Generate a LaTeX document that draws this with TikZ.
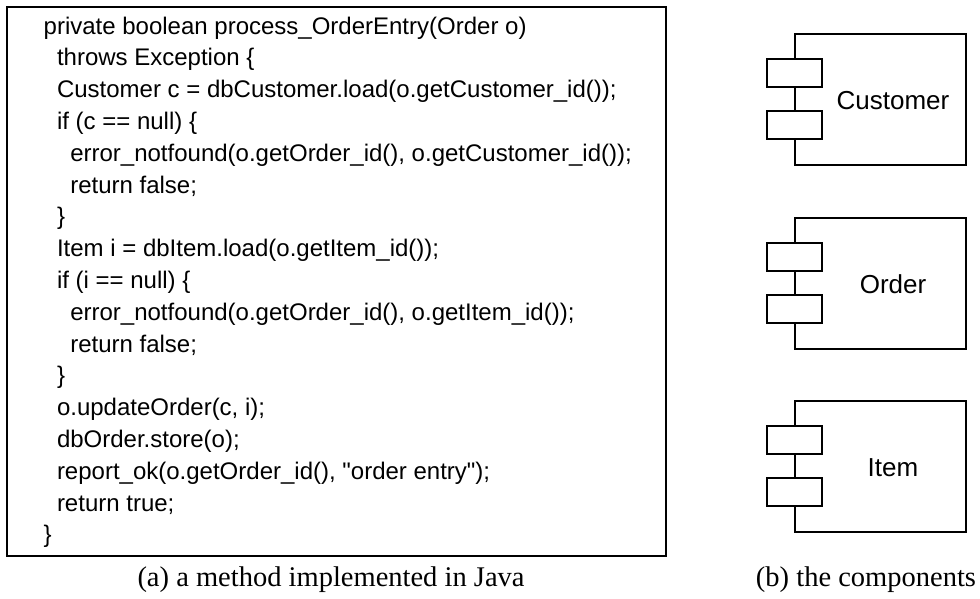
\documentclass[tikz,border=0pt]{standalone}
\usepackage{fontspec}
\setmainfont{Liberation Serif}
\newfontfamily\codefont{Liberation Sans}
\begin{document}
\begin{tikzpicture}[x=1pt,y=-1pt,
  codeline/.style={anchor=base west, inner sep=0pt,
    font=\codefont\fontsize{24}{31.8}\selectfont},
  codeframe/.style={draw, line width=2pt, anchor=north west,
    minimum width=659pt, minimum height=549pt, inner sep=0pt},
  compbox/.style={draw, line width=1.6pt, anchor=north west,
    minimum width=171pt, minimum height=131pt, inner sep=0pt},
  port/.style={draw, fill=white, line width=1.6pt,
    minimum width=55pt, minimum height=28pt, inner sep=0pt},
  complabel/.style={anchor=base, inner sep=0pt,
    font=\codefont\fontsize{26}{30}\selectfont},
  caption/.style={anchor=base, inner sep=0pt,
    font=\fontsize{28.5}{32}\selectfont}]
\useasboundingbox (0,0) rectangle (980,598);

% the method listing
\node[codeframe] (code) at (6,6) {};
\node[codeline] (l1)  at (43.5, 34.0) {private boolean process\_OrderEntry(Order o)};
\node[codeline] (l2)  at (56.8, 65.8) {throws Exception \{};
\node[codeline] (l3)  at (56.8, 97.6) {Customer c = dbCustomer.load(o.getCustomer\_id());};
\node[codeline] (l4)  at (56.8,129.4) {if (c == null) \{};
\node[codeline] (l5)  at (70.1,161.2) {error\_notfound(o.getOrder\_id(), o.getCustomer\_id());};
\node[codeline] (l6)  at (70.1,193.0) {return false;};
\node[codeline] (l7)  at (56.8,224.8) {\}};
\node[codeline] (l8)  at (56.8,256.6) {Item i = dbItem.load(o.getItem\_id());};
\node[codeline] (l9)  at (56.8,288.4) {if (i == null) \{};
\node[codeline] (l10) at (70.1,320.2) {error\_notfound(o.getOrder\_id(), o.getItem\_id());};
\node[codeline] (l11) at (70.1,352.0) {return false;};
\node[codeline] (l12) at (56.8,383.8) {\}};
\node[codeline] (l13) at (56.8,415.6) {o.updateOrder(c, i);};
\node[codeline] (l14) at (56.8,447.4) {dbOrder.store(o);};
\node[codeline] (l15) at (56.8,479.2) {report\_ok(o.getOrder\_id(), "order entry");};
\node[codeline] (l16) at (56.8,511.0) {return true;};
\node[codeline] (l17) at (43.5,542.8) {\}};

% the three components
\foreach \nm/\txt/\top in {cust/Customer/33, ord/Order/217, itm/Item/400} {
  \node[compbox] (\nm) at (794,\top) {};
  \node[port] (\nm-p1) at ([xshift=0.5pt,yshift=-40pt]\nm.north west) {};
  \node[port] (\nm-p2) at ([xshift=0.5pt,yshift=-92pt]\nm.north west) {};
  \node[complabel] (\nm-label) at ([xshift=99pt,yshift=-76pt]\nm.north west) {\txt};
}

% captions
\node[caption] (capa) at (331,586) {(a) a method implemented in Java};
\node[caption] (capb) at (866,586) {(b) the components};
\end{tikzpicture}
\end{document}
